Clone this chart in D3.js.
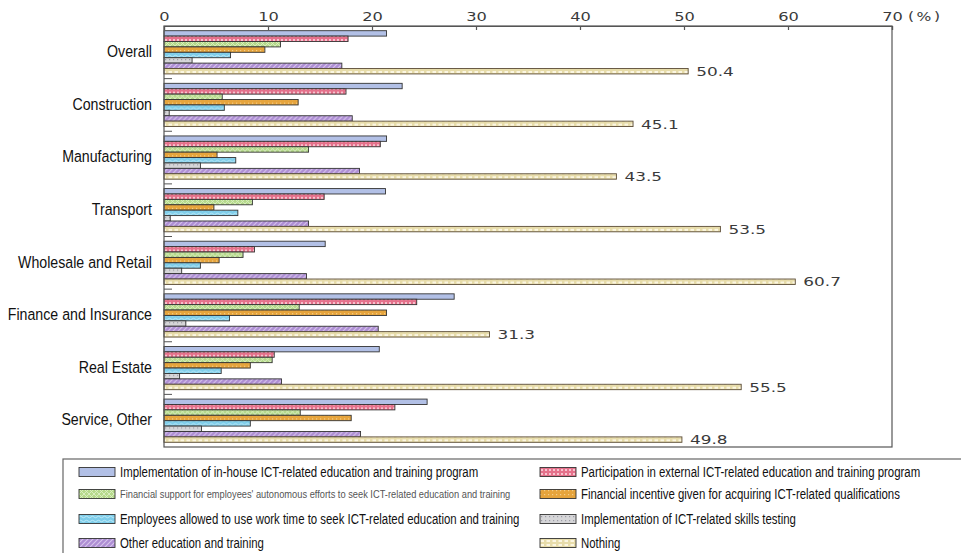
<!DOCTYPE html>
<html>
<head>
<meta charset="utf-8">
<script src="https://cdn.jsdelivr.net/npm/d3@7/dist/d3.min.js"></script>
<style>
  body { margin: 0; background: #fff; }
  svg { display: block; }
</style>
</head>
<body>
<svg id="chart" width="961" height="553"></svg>
<script>
// Industries (one group of bars each)
const categories = ["Overall", "Construction", "Manufacturing", "Transport",
  "Wholesale and Retail", "Finance and Insurance", "Real Estate", "Service, Other"];

// Measures taken, in drawing order inside each group
const seriesNames = [
  "Implementation of in-house ICT-related education and training program",
  "Participation in external ICT-related education and training program",
  "Financial support for employees' autonomous efforts to seek ICT-related education and training",
  "Financial incentive given for acquiring ICT-related qualifications",
  "Employees allowed to use work time to seek ICT-related education and training",
  "Implementation of ICT-related skills testing",
  "Other education and training",
  "Nothing"
];

// Share of companies (%) per industry
const inHouse                = [21.4, 22.9, 21.4, 21.3, 15.5, 27.9, 20.7, 25.3];
const external               = [17.7, 17.5, 20.8, 15.4,  8.7, 24.3, 10.6, 22.2];
const autonomousSupport      = [11.2,  5.6, 13.9,  8.5,  7.6, 13.0, 10.4, 13.1];
const qualificationIncentive = [ 9.7, 12.9,  5.1,  4.8,  5.3, 21.4,  8.3, 18.0];
const workTime               = [ 6.4,  5.8,  6.9,  7.1,  3.5,  6.3,  5.5,  8.3];
const skillsTesting          = [ 2.7,  0.5,  3.5,  0.6,  1.7,  2.1,  1.5,  3.6];
const otherTraining          = [17.1, 18.1, 18.8, 13.9, 13.7, 20.6, 11.3, 18.9];
const nothing                = [50.4, 45.1, 43.5, 53.5, 60.7, 31.3, 55.5, 49.8];

const xTicks = [0, 10, 20, 30, 40, 50, 60, 70];
const unitLabel = "(%)";

const seriesValues = [inHouse, external, autonomousSupport, qualificationIncentive,
  workTime, skillsTesting, otherTraining, nothing];
const labelledSeries = 7; // only the "Nothing" bars carry their value

const svg = d3.select("#chart");
const defs = svg.append("defs");

// ---- fill patterns for each series ----
function pattern(id, w, h, bg, draw) {
  const p = defs.append("pattern").attr("id", id)
    .attr("patternUnits", "userSpaceOnUse").attr("width", w).attr("height", h);
  p.append("rect").attr("width", w).attr("height", h).attr("fill", bg);
  draw(p);
  return `url(#${id})`;
}
const fills = [
  "#b2c0e6",
  pattern("p-ext", 4, 4, "#e5718b", p => {
    p.append("rect").attr("x", 1).attr("y", 1).attr("width", 2).attr("height", 2).attr("fill", "#f7c3cf");
  }),
  pattern("p-aut", 5, 5, "#b5d98b", p => {
    p.append("path").attr("d", "M0,5 L5,0 M0,0 L5,5").attr("stroke", "#dcefc4").attr("stroke-width", 0.9);
  }),
  pattern("p-inc", 4, 4, "#e6a43c", p => {
    p.append("rect").attr("x", 0).attr("y", 0).attr("width", 1.2).attr("height", 1.2).attr("fill", "#f5cf8a");
  }),
  pattern("p-work", 6, 4, "#7ecdea", p => {
    p.append("path").attr("d", "M0,2 Q1.5,0.5 3,2 T6,2").attr("fill", "none").attr("stroke", "#c4ebf7").attr("stroke-width", 0.9);
  }),
  pattern("p-test", 4, 4, "#d6d6d8", p => {
    p.append("rect").attr("x", 1).attr("y", 1).attr("width", 1.2).attr("height", 1.2).attr("fill", "#9c9ca6");
  }),
  pattern("p-oth", 5, 5, "#ae8ed4", p => {
    p.append("path").attr("d", "M-1,6 L6,-1 M-1,1 L1,-1 M4,6 L6,4").attr("stroke", "#d7c6ec").attr("stroke-width", 1.1);
  }),
  pattern("p-none", 6, 4, "#e7dcaa", p => {
    p.append("rect").attr("x", 0.5).attr("y", 1).attr("width", 3.5).attr("height", 2).attr("fill", "#fbf6e2");
  })
];

// ---- scales ----
const x = d3.scaleLinear().domain([0, 70]).range([164, 892]);
const y0 = d3.scaleBand().domain(categories).range([26, 447]).padding(0);
const y1 = d3.scaleBand().domain(d3.range(seriesNames.length))
  .range([4.7, y0.bandwidth() - 4.7]).padding(0);

// narrow / widen a text element horizontally (condensed or extended face)
function stretch(sel, factor) {
  sel.each(function (d) {
    const f = typeof factor === "function" ? factor(d) : factor;
    const t = d3.select(this);
    const tx = +t.attr("x") || 0, ty = +t.attr("y") || 0;
    t.attr("x", 0).attr("y", 0)
     .attr("transform", `translate(${tx},${ty}) scale(${f},1)`);
  });
}

// ---- bars ----
const groups = svg.append("g").selectAll("g")
  .data(categories).join("g")
  .attr("transform", d => `translate(0,${y0(d)})`);

groups.selectAll("rect")
  .data((c, ci) => seriesValues.map((vals, si) => ({ si, v: vals[ci] })))
  .join("rect")
  .attr("x", x(0))
  .attr("y", d => y1(d.si))
  .attr("width", d => x(d.v) - x(0))
  .attr("height", y1.bandwidth())
  .attr("fill", d => fills[d.si])
  .attr("stroke", d => d.si === 7 ? "#5a4b35" : "#333")
  .attr("stroke-width", 0.9);

// value labels on the "Nothing" bars
groups.append("text")
  .attr("x", (c, ci) => x(seriesValues[labelledSeries][ci]) + 8)
  .attr("y", y1(labelledSeries) + y1.bandwidth() / 2)
  .attr("dy", "0.36em")
  .attr("font-family", "DejaVu Sans, sans-serif")
  .attr("font-size", 13)
  .attr("fill", "#3a3a3a")
  .text((c, ci) => d3.format(".1f")(seriesValues[labelledSeries][ci]))
  .call(stretch, 1.3);

// ---- frame ----
svg.append("rect")
  .attr("x", x(0)).attr("y", y0.range()[0])
  .attr("width", x(70) - x(0)).attr("height", y0.range()[1] - y0.range()[0])
  .attr("fill", "none").attr("stroke", "#555").attr("stroke-width", 1.2);

// ---- top value axis ----
const xAxis = svg.append("g")
  .attr("transform", `translate(0,${y0.range()[0]})`)
  .call(d3.axisTop(x).tickValues(xTicks).tickSize(-4).tickPadding(5).tickFormat(d3.format("d")));
xAxis.select(".domain").attr("stroke", "#555").attr("stroke-width", 1.2);
xAxis.selectAll(".tick line").attr("stroke", "#555").attr("stroke-width", 1.2);
xAxis.selectAll(".tick text")
  .attr("font-family", "DejaVu Sans, sans-serif")
  .attr("font-size", 12.5)
  .attr("fill", "#3a3a3a")
  .call(stretch, 1.3);

svg.append("text")
  .attr("x", x(70) + 16).attr("y", y0.range()[0] - 5)
  .attr("font-family", "DejaVu Sans, sans-serif")
  .attr("font-size", 12.5)
  .attr("letter-spacing", 2)
  .attr("fill", "#3a3a3a")
  .text(unitLabel)
  .call(stretch, 1.25);

// ---- category axis: inward ticks between groups, labels on the left ----
const yAxis = svg.append("g")
  .attr("transform", `translate(${x(0)},0)`);
yAxis.selectAll("line")
  .data(categories.slice(1)).join("line")
  .attr("x1", 0).attr("x2", 8)
  .attr("y1", d => y0(d)).attr("y2", d => y0(d))
  .attr("stroke", "#555").attr("stroke-width", 1);
yAxis.selectAll("text")
  .data(categories).join("text")
  .attr("x", -12)
  .attr("y", d => y0(d) + y0.bandwidth() / 2 - 1)
  .attr("dy", "0.35em")
  .attr("text-anchor", "end")
  .attr("font-family", "Liberation Sans, Arial, sans-serif")
  .attr("font-size", 16.5)
  .attr("fill", "#111")
  .text(d => d)
  .call(stretch, 0.86);

// ---- legend ----
const legend = svg.append("g");
legend.append("rect")
  .attr("x", 63).attr("y", 459).attr("width", 960).attr("height", 140)
  .attr("fill", "none").attr("stroke", "#666").attr("stroke-width", 1.2);

const legendCols = [79, 540];
const legendRows = [472, 494, 519, 543];
const items = legend.selectAll("g.item")
  .data(seriesNames.map((name, i) => ({ name, i })))
  .join("g").attr("class", "item")
  .attr("transform", d => `translate(${legendCols[d.i % 2]},${legendRows[Math.floor(d.i / 2)]})`);
items.append("rect")
  .attr("x", 0).attr("y", -4.5).attr("width", 36).attr("height", 9)
  .attr("fill", d => fills[d.i])
  .attr("stroke", "#333").attr("stroke-width", 0.9);
items.append("text")
  .attr("x", 41).attr("y", 0).attr("dy", "0.35em")
  .attr("font-family", "Liberation Sans, Arial, sans-serif")
  .attr("font-size", d => d.i === 2 ? 10 : 14)
  .attr("fill", d => d.i === 2 ? "#555" : "#111")
  .text(d => d.name)
  .call(stretch, d => d.i === 2 ? 0.93 : 0.815);
</script>
</body>
</html>
